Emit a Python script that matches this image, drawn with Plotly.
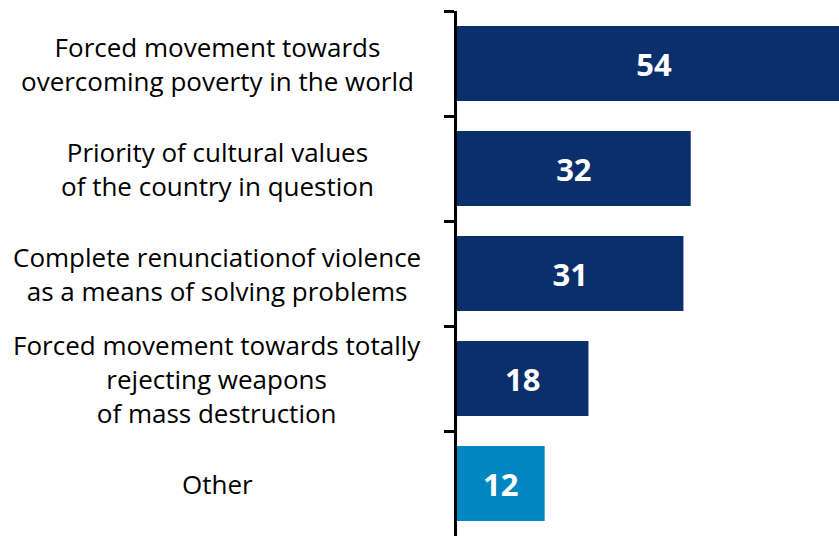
import plotly.graph_objects as go

categories = [
    "Forced movement towards<br>overcoming poverty in the world",
    "Priority of cultural values<br>of the country in question",
    "Complete renunciationof violence<br>as a means of solving problems",
    "Forced movement towards totally<br>rejecting weapons<br>of mass destruction",
    "Other",
]
values = [54, 32, 31, 18, 12]
colors = ["#0b2f6d", "#0b2f6d", "#0b2f6d", "#0b2f6d", "#0086c0"]
ids = ["c0", "c1", "c2", "c3", "c4"]

fig = go.Figure(go.Bar(
    y=ids,
    x=values,
    orientation="h",
    marker=dict(color=colors, line=dict(width=0)),
    text=[str(v) for v in values],
    textposition="inside",
    insidetextanchor="middle",
    textfont=dict(family="Open Sans", size=31, color="white", weight="bold"),
    width=0.714,
))

for cid, lab in zip(ids, categories):
    fig.add_annotation(
        x=-0.628, xref="paper", y=cid, yref="y",
        text=lab, showarrow=False, xanchor="center", yanchor="middle",
        align="center",
        font=dict(family="Open Sans", size=26, color="#000000"),
    )

fig.update_layout(
    width=839, height=536,
    margin=dict(l=457, r=0, t=11, b=0),
    plot_bgcolor="white", paper_bgcolor="white",
    showlegend=False,
    uniformtext=dict(minsize=10, mode="show"),
)
fig.update_xaxes(range=[0, 52.3], visible=False, showgrid=False)
fig.update_yaxes(
    autorange="reversed",
    showticklabels=False,
    showline=True, linecolor="black", linewidth=3,
    ticks="outside", tickson="boundaries", ticklen=10, tickwidth=3, tickcolor="black",
    showgrid=False, zeroline=False,
)

fig.write_html("out.html")
